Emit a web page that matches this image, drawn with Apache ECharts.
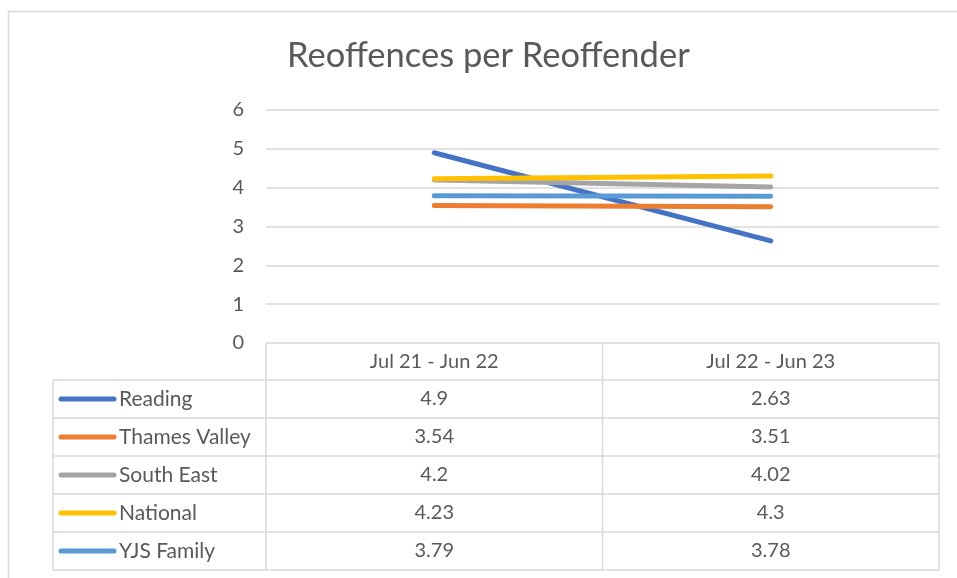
<!DOCTYPE html>
<html>
<head>
<meta charset="utf-8">
<script src="https://cdn.jsdelivr.net/npm/echarts@6/dist/echarts.min.js"></script>
<style>
  html, body { margin: 0; padding: 0; background: #fff; }
  #main { width: 957px; height: 578px; }
</style>
</head>
<body>
<div id="main"></div>
<script>
var categories = ["Jul 21 - Jun 22", "Jul 22 - Jun 23"];
var seriesNames = ["Reading", "Thames Valley", "South East", "National", "YJS Family"];
var reading = [4.9, 2.63];
var thamesValley = [3.54, 3.51];
var southEast = [4.2, 4.02];
var national = [4.23, 4.3];
var yjsFamily = [3.79, 3.78];
var colors = ["#4472C4", "#ED7D31", "#A5A5A5", "#FFC000", "#5B9BD5"];

var allValues = [reading, thamesValley, southEast, national, yjsFamily];

var fontFamily = "Lato, 'Open Sans', sans-serif";
var textColor = "#595959";
var lineColor = "#d9d9d9";

var myChart = echarts.init(document.getElementById("main"));

myChart.setOption({
  animation: false,
  color: colors,
  title: {
    text: "Reoffences per Reoffender",
    left: 282,
    top: 33,
    textStyle: {
      fontFamily: fontFamily,
      fontSize: 34.5,
      fontWeight: "normal",
      color: textColor,
    },
  },
  grid: {
    left: 266,
    right: 18,
    top: 110,
    bottom: 235,
  },
  xAxis: {
    type: "category",
    data: categories,
    boundaryGap: true,
    axisLine: { show: false },
    axisTick: { show: false },
    axisLabel: { show: false },
  },
  yAxis: {
    type: "value",
    min: 0,
    max: 6,
    interval: 1,
    axisLabel: {
      fontFamily: fontFamily,
      fontSize: 20,
      color: textColor,
      margin: 22,
    },
    splitLine: {
      lineStyle: { color: lineColor, width: 1.5 },
    },
  },
  series: allValues.map(function (vals, i) {
    return {
      name: seriesNames[i],
      type: "line",
      data: vals,
      showSymbol: false,
      symbol: "none",
      lineStyle: { width: 5, cap: "round", color: colors[i] },
    };
  }),
});

// data table under the plot, laid out from the axis scales
function drawTable() {
  var zeroY = myChart.convertToPixel({ yAxisIndex: 0 }, 0);
  var xs = categories.map(function (c, i) {
    return myChart.convertToPixel({ xAxisIndex: 0 }, i);
  });
  var half = (xs[1] - xs[0]) / 2;
  var colEdges = [xs[0] - half, xs[0] + half, xs[1] + half];
  var tableLeft = 53;
  var rowH = 38;
  var headerBottom = zeroY + 37;
  var tableBottom = headerBottom + rowH * seriesNames.length;
  var els = [];
  var stroke = { stroke: lineColor, lineWidth: 1.5 };
  var cellFont = "20px " + fontFamily;

  // frame of the whole chart
  els.push({
    type: "rect",
    shape: { x: 8.5, y: 11.5, width: 1000, height: 700 },
    style: { fill: null, stroke: lineColor, lineWidth: 1.5 },
  });

  colEdges.forEach(function (x) {
    els.push({ type: "line", shape: { x1: x, y1: zeroY, x2: x, y2: tableBottom }, style: stroke });
  });
  els.push({ type: "line", shape: { x1: tableLeft, y1: headerBottom, x2: tableLeft, y2: tableBottom }, style: stroke });
  for (var r = 0; r <= seriesNames.length; r++) {
    var y = headerBottom + r * rowH;
    els.push({ type: "line", shape: { x1: tableLeft, y1: y, x2: colEdges[2], y2: y }, style: stroke });
  }

  categories.forEach(function (c, i) {
    els.push({
      type: "text",
      x: xs[i],
      y: (zeroY + headerBottom) / 2,
      style: { text: c, fill: textColor, font: cellFont, align: "center", verticalAlign: "middle" },
    });
  });

  seriesNames.forEach(function (name, r) {
    var cy = headerBottom + r * rowH + rowH / 2;
    els.push({
      type: "line",
      shape: { x1: 61, y1: cy, x2: 114, y2: cy },
      style: { stroke: colors[r], lineWidth: 5, lineCap: "round" },
    });
    els.push({
      type: "text",
      x: 119,
      y: cy,
      style: { text: name, fill: textColor, font: "21px " + fontFamily, align: "left", verticalAlign: "middle" },
    });
    allValues[r].forEach(function (v, i) {
      els.push({
        type: "text",
        x: xs[i],
        y: cy,
        style: { text: String(v), fill: textColor, font: cellFont, align: "center", verticalAlign: "middle" },
      });
    });
  });

  myChart.setOption({ graphic: { elements: els } });
}

drawTable();
</script>
</body>
</html>
